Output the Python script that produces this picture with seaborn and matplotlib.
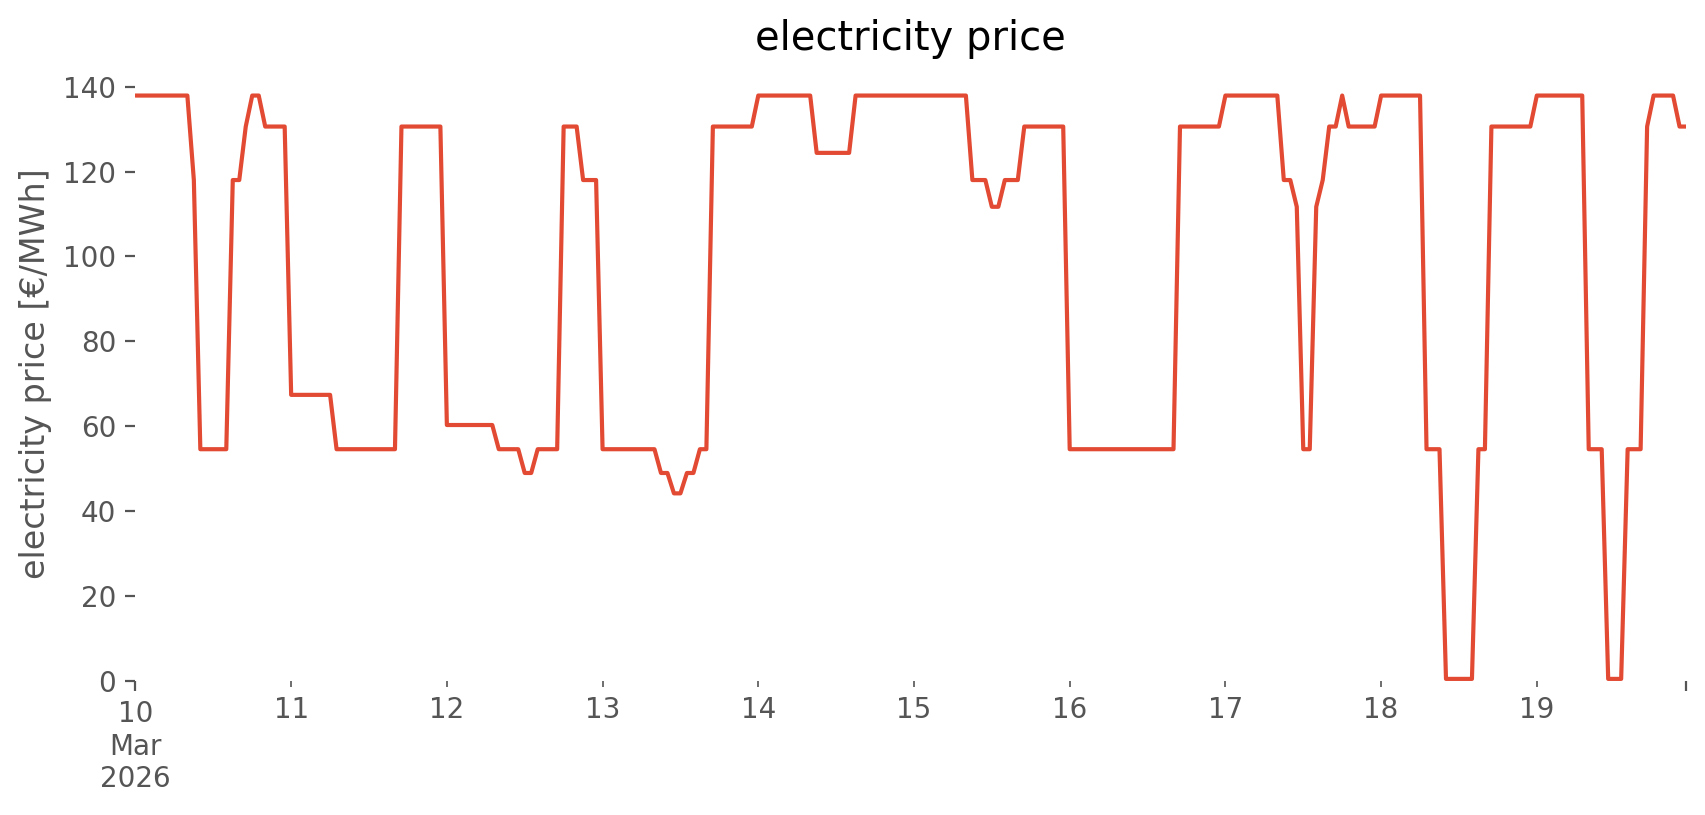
import matplotlib
matplotlib.use("Agg")
import numpy as np
import pandas as pd
import matplotlib.pyplot as plt
import matplotlib.dates as mdates
from matplotlib.ticker import FixedLocator, FixedFormatter
import seaborn as sns

# hourly electricity price [€/MWh], one list per day (00:00 .. 23:00)
mar10 = [137.9] * 9 + [118.0] + [54.6] * 5 + [118.0] * 2 + [130.6] + [137.9] * 2 + [130.6] * 4
mar11 = [67.4] * 7 + [54.6] * 10 + [130.6] * 7
mar12 = [60.3] * 8 + [54.6] * 4 + [49.0] * 2 + [54.6] * 4 + [130.6] * 3 + [118.0] * 3
mar13 = [54.6] * 9 + [49.0] * 2 + [44.2] * 2 + [49.0] * 2 + [54.6] * 2 + [130.6] * 7
mar14 = [137.9] * 9 + [124.4] * 6 + [137.9] * 9
mar15 = [137.9] * 9 + [118.0] * 3 + [111.7] * 2 + [118.0] * 3 + [130.6] * 7
mar16 = [54.6] * 17 + [130.6] * 7
mar17 = ([137.9] * 9 + [118.0] * 2 + [111.7] + [54.6] * 2 + [111.7] + [118.0]
         + [130.6] * 2 + [137.9] + [130.6] * 5)
mar18 = [137.9] * 7 + [54.6] * 3 + [0.5] * 5 + [54.6] * 2 + [130.6] * 7
mar19 = [137.9] * 8 + [54.6] * 3 + [0.5] * 3 + [54.6] * 3 + [130.6] + [137.9] * 4 + [130.6] * 2

start_time = "2026-03-10 00:00"
day_labels = ["10\nMar\n2026", "11", "12", "13", "14", "15", "16", "17", "18", "19"]
y_ticks = [0, 20, 40, 60, 80, 100, 120, 140]

prices = mar10 + mar11 + mar12 + mar13 + mar14 + mar15 + mar16 + mar17 + mar18 + mar19
times = pd.date_range(start_time, periods=len(prices), freq="h")
df = pd.DataFrame({"time": times, "price": prices})

sns.set_style("white", rc={
    "axes.facecolor": "white",
    "figure.facecolor": "white",
    "xtick.bottom": True,
    "ytick.left": True,
    "xtick.color": "#555555",
    "ytick.color": "#555555",
    "axes.labelcolor": "#555555",
    "xtick.direction": "out",
    "ytick.direction": "out",
})
plt.rcParams["font.family"] = ["DejaVu Sans"]
plt.rcParams["font.size"] = 10
plt.rcParams["xtick.labelsize"] = 10
plt.rcParams["ytick.labelsize"] = 10
plt.rcParams["xtick.major.size"] = 3.5
plt.rcParams["xtick.minor.size"] = 2.0
plt.rcParams["ytick.major.size"] = 3.5
plt.rcParams["xtick.major.width"] = 0.8
plt.rcParams["xtick.minor.width"] = 0.6
plt.rcParams["ytick.major.width"] = 0.8

fig = plt.figure(figsize=(8.53, 4.075), dpi=200)
ax = fig.add_axes([0.0794, 0.1644, 0.9089, 0.7543])
sns.lineplot(data=df, x="time", y="price", ax=ax, color="#E24A33", linewidth=1.5)

for s in ax.spines.values():
    s.set_visible(False)

ax.set_xlim(times[0], times[-1])
ax.set_ylim(0, 144.8)
ax.set_yticks(y_ticks)
ax.set_yticklabels([str(v) for v in y_ticks])

day_starts = pd.date_range(start_time, periods=len(day_labels), freq="D")
major_locs = mdates.date2num([times[0], times[-1]])
minor_locs = mdates.date2num(list(day_starts[1:]))
ax.xaxis.set_major_locator(FixedLocator(major_locs))
ax.xaxis.set_major_formatter(FixedFormatter([day_labels[0], ""]))
ax.xaxis.set_minor_locator(FixedLocator(minor_locs))
ax.xaxis.set_minor_formatter(FixedFormatter(day_labels[1:]))
ax.tick_params(axis="x", which="both", colors="#555555", labelsize=10)

ax.set_xlabel("")
ax.set_ylabel("electricity price [€/MWh]", fontsize=12, color="#555555")
ax.set_title("electricity price", fontsize=14.4, color="black")

fig.savefig("out.png", dpi=200)
